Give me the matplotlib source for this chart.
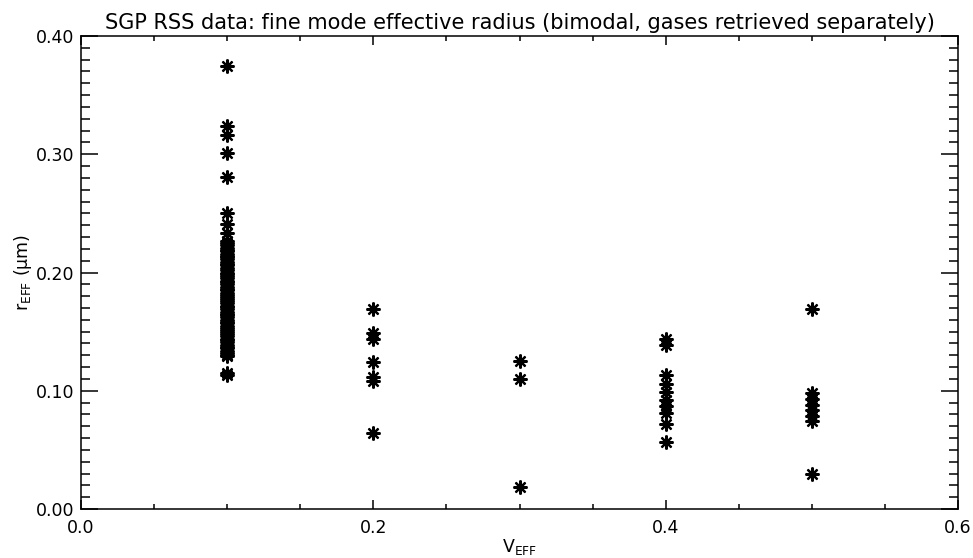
import matplotlib
matplotlib.use("Agg")
import matplotlib.pyplot as plt
from matplotlib.ticker import MultipleLocator, FormatStrFormatter

# Retrieved fine-mode effective radius (um) for each effective variance
reff_01 = [0.375, 0.324, 0.316, 0.301, 0.281, 0.250, 0.241, 0.233,
           0.227, 0.225, 0.223, 0.221, 0.219, 0.218, 0.216, 0.214, 0.213,
           0.211, 0.209, 0.207, 0.206, 0.204, 0.202, 0.200, 0.199, 0.197,
           0.195, 0.193, 0.192, 0.190, 0.188, 0.186, 0.185, 0.183, 0.181,
           0.179, 0.178, 0.176, 0.174, 0.172, 0.171, 0.169, 0.167, 0.165,
           0.164, 0.162, 0.160, 0.158, 0.157, 0.155, 0.153, 0.151, 0.150,
           0.148, 0.146, 0.144, 0.143, 0.141, 0.139, 0.137, 0.136, 0.134,
           0.132, 0.130, 0.129, 0.115, 0.113]
reff_02 = [0.169, 0.149, 0.144, 0.124, 0.112, 0.108, 0.064]
reff_03 = [0.125, 0.110, 0.019]
reff_04 = [0.144, 0.139, 0.113, 0.106, 0.099, 0.092, 0.087, 0.081, 0.072, 0.057]
reff_05 = [0.169, 0.098, 0.093, 0.088, 0.084, 0.079, 0.074, 0.030]

veff_values = [0.1, 0.2, 0.3, 0.4, 0.5]
reff_groups = [reff_01, reff_02, reff_03, reff_04, reff_05]

x_ticks = [0.0, 0.2, 0.4, 0.6]
y_ticks = [0.00, 0.10, 0.20, 0.30, 0.40]

plt.rcParams["font.family"] = ["DejaVu Sans"]
plt.rcParams["mathtext.default"] = "regular"

fig = plt.figure(figsize=(9.73, 5.58), dpi=100)
W, H = 973, 558
ax = fig.add_axes([81 / W, 1 - 509 / H, (958 - 81) / W, (509 - 36) / H])

for v, r in zip(veff_values, reff_groups):
    ax.plot([v] * len(r), r, linestyle="none", marker=(8, 2, 0),
            markersize=10, markeredgewidth=1.6, color="black")

ax.set_xlim(0.0, 0.6)
ax.set_ylim(0.0, 0.4)
ax.set_xticks(x_ticks)
ax.set_yticks(y_ticks)
ax.xaxis.set_minor_locator(MultipleLocator(0.05))
ax.yaxis.set_minor_locator(MultipleLocator(0.01))
ax.xaxis.set_major_formatter(FormatStrFormatter("%.1f"))
ax.yaxis.set_major_formatter(FormatStrFormatter("%.2f"))

for s in ax.spines.values():
    s.set_linewidth(1.1)

ax.tick_params(axis="both", which="both", direction="in", top=True,
               right=True, width=1.1, labelsize=12.5)
ax.tick_params(axis="y", which="major", length=12.5, pad=5)
ax.tick_params(axis="y", which="minor", length=6.5)
ax.tick_params(axis="x", which="major", length=6.5, pad=7)
ax.tick_params(axis="x", which="minor", length=3.6)

ax.set_title("SGP RSS data: fine mode effective radius (bimodal, gases retrieved separately)",
             fontsize=15, pad=5)
ax.set_xlabel(r"$V_{EFF}$", fontsize=12.5, labelpad=0)
ax.set_ylabel(r"$r_{EFF}$ ($\mu$m)", fontsize=12.5, labelpad=1)

fig.savefig("out.png", dpi=100, facecolor="white")
